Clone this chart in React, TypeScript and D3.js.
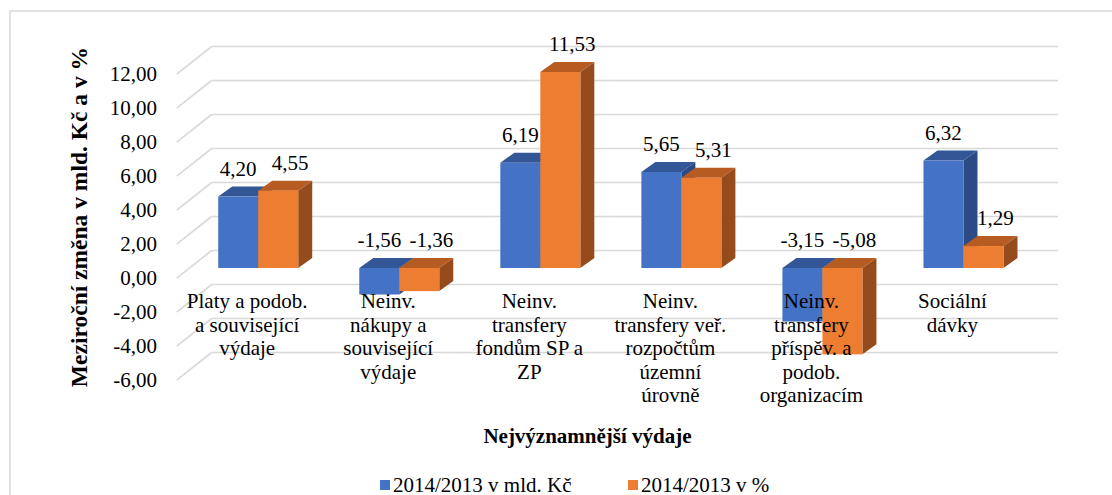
import React from 'react';
import * as d3 from 'd3';

// data
const categories = [
    ['Platy a podob.', 'a související', 'výdaje'],
    ['Neinv.', 'nákupy a', 'související', 'výdaje'],
    ['Neinv.', 'transfery', 'fondům SP a', 'ZP'],
    ['Neinv.', 'transfery veř.', 'rozpočtům', 'územní', 'úrovně'],
    ['Neinv.', 'transfery', 'příspěv. a', 'podob.', 'organizacím'],
    ['Sociální', 'dávky'],
];
const seriesNames = ['2014/2013 v mld. Kč', '2014/2013 v %'];
const valuesMld = [4.20, -1.56, 6.19, 5.65, -3.15, 6.32];
const valuesPct = [4.55, -1.36, 11.53, 5.31, -5.08, 1.29];
const yTicks = [-6, -4, -2, 0, 2, 4, 6, 8, 10, 12];

const FONT = "'Liberation Serif', 'Times New Roman', 'DejaVu Serif', serif";
const colors = [
    { front: '#4472C4', top: '#325696', side: '#2C4B84' },
    { front: '#ED7D31', top: '#B65B21', side: '#954B1B' },
];

const fmt = (v: number) => v.toFixed(2).replace('.', ',');

const App = () => {
    const width = 1112;
    const height = 495;

    // back wall of the 3D plot
    const back = { left: 211.7, right: 1058 };
    const depth = { dx: -35, dy: 27.6 }; // back wall -> front edge
    const barPlane = { dx: -24, dy: 17.5 }; // back wall -> bar front faces
    const barDepth = { dx: 14, dy: -10 };

    const yBack = d3.scaleLinear().domain([-6, 12]).range([352.5, 46.5]);
    const xBand = d3.scaleBand<number>()
        .domain(categories.map((_, i) => i))
        .range([back.left, back.right])
        .padding(0);
    const xSeries = d3.scaleBand<number>().domain([0, 1]).range([0, 80]);

    const series = [valuesMld, valuesPct];

    const bars = series.flatMap((vals, s) =>
        vals.map((v, i) => {
            const c = (xBand(i) as number) + xBand.bandwidth() / 2;
            const x0 = c - 40 + barPlane.dx + (xSeries(s) as number);
            const x1 = x0 + xSeries.bandwidth();
            const yTop = yBack(Math.max(v, 0)) + barPlane.dy;
            const yBot = yBack(Math.min(v, 0)) + barPlane.dy;
            return { s, i, v, x0, x1, yTop, yBot };
        })
    );

    const { dx, dy } = barDepth;

    return (
        <svg width={width} height={height}
            style={{ position: 'absolute', left: 0, top: 0, background: '#fff', fontFamily: FONT }}>
            <rect x={10} y={11} width={1200} height={600} fill="#fff" stroke="#d9d9d9" strokeWidth={1.5} />

            <g className="grid">
                {yTicks.map(t => (
                    <g key={t}>
                        <line x1={back.left} x2={back.right} y1={yBack(t)} y2={yBack(t)} stroke="#d9d9d9" strokeWidth={1.6} />
                        <line x1={back.left} y1={yBack(t)} x2={back.left + depth.dx} y2={yBack(t) + depth.dy}
                            stroke="#d9d9d9" strokeWidth={1.6} />
                        <text x={157} y={yBack(t) + depth.dy} dy="0.35em" textAnchor="end" fontSize={21} fill="#000">
                            {fmt(t)}
                        </text>
                    </g>
                ))}
            </g>

            <g className="bars">
                {bars.map(b => (
                    <g key={`${b.s}-${b.i}`}>
                        <polygon fill={colors[b.s].side}
                            points={`${b.x1},${b.yTop} ${b.x1 + dx},${b.yTop + dy} ${b.x1 + dx},${b.yBot + dy} ${b.x1},${b.yBot}`} />
                        <polygon fill={colors[b.s].top}
                            points={`${b.x0},${b.yTop} ${b.x1},${b.yTop} ${b.x1 + dx},${b.yTop + dy} ${b.x0 + dx},${b.yTop + dy}`} />
                        <rect x={b.x0} y={b.yTop} width={b.x1 - b.x0} height={b.yBot - b.yTop} fill={colors[b.s].front} />
                    </g>
                ))}
            </g>

            <g className="category-labels">
                {categories.map((lines, i) => {
                    const c = (xBand(i) as number) + xBand.bandwidth() / 2 + depth.dx;
                    return (
                        <text key={i} x={c} y={308} textAnchor="middle" fontSize={21} fill="#000">
                            {lines.map((l, k) => (
                                <tspan key={k} x={c} dy={k === 0 ? 0 : 23.5}>{l}</tspan>
                            ))}
                        </text>
                    );
                })}
            </g>

            <g className="value-labels">
                {bars.map(b => (
                    <text key={`l${b.s}-${b.i}`} x={(b.x0 + b.x1) / 2 + (b.s === 1 ? 12 : 0)} y={b.yTop - 21}
                        textAnchor="middle" fontSize={21} fill="#000">
                        {fmt(b.v)}
                    </text>
                ))}
            </g>

            <text transform="translate(79, 217) rotate(-90)" textAnchor="middle" dy="0.35em"
                fontSize={23.5} fontWeight="bold" fill="#000">
                Meziroční změna v mld. Kč a v %
            </text>
            <text x={587.5} y={443} textAnchor="middle" fontSize={21} fontWeight="bold" fill="#000">
                Nejvýznamnější výdaje
            </text>

            <g className="legend">
                {seriesNames.map((name, s) => {
                    const lx = [380, 628][s];
                    return (
                        <g key={name}>
                            <rect x={lx} y={480} width={10} height={10} fill={colors[s].front} />
                            <text x={lx + 13} y={491.5} fontSize={21} fill="#000">{name}</text>
                        </g>
                    );
                })}
            </g>
        </svg>
    );
};

export default App;
